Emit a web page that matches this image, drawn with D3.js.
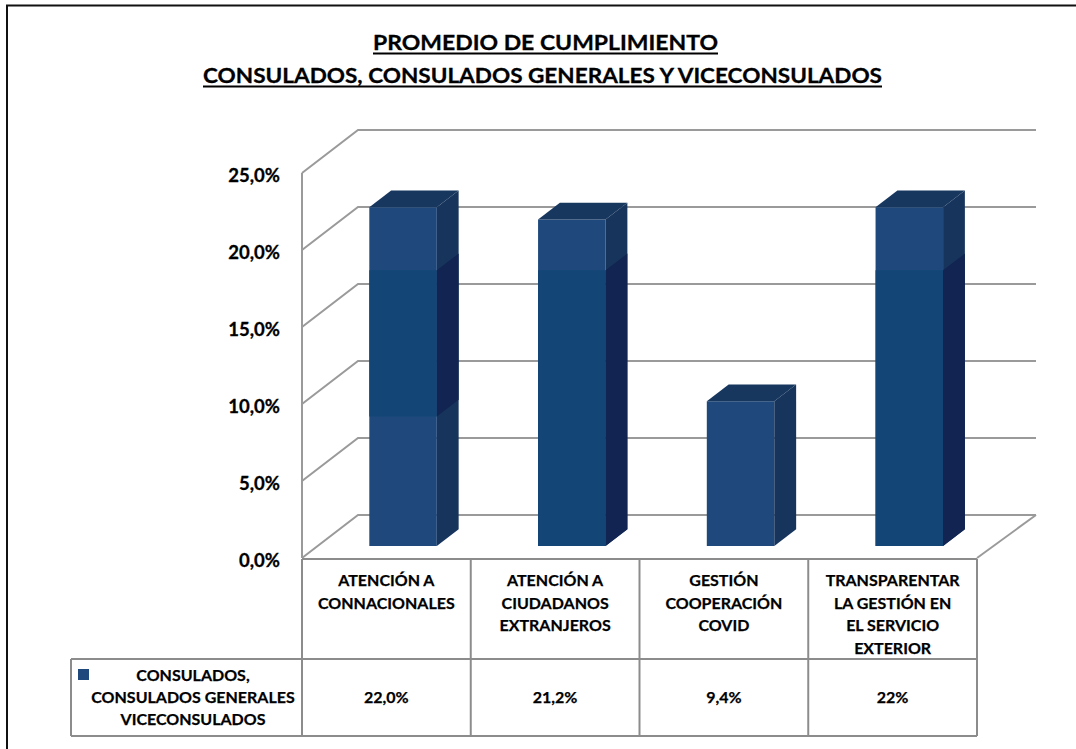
<!DOCTYPE html>
<meta charset="utf-8">
<style>
body { margin: 0; background: #fff; }
text { font-family: Lato, "Open Sans", sans-serif; font-weight: bold; fill: #000; }
</style>
<body>
<script src="https://d3js.org/d3.v7.min.js"></script>
<script>
var width = 1076, height = 749;

// data
var categories = ["ATENCIÓN A CONNACIONALES", "ATENCIÓN A CIUDADANOS EXTRANJEROS",
                  "GESTIÓN COOPERACIÓN COVID", "TRANSPARENTAR LA GESTIÓN EN EL SERVICIO EXTERIOR"];
var categoryLines = [["ATENCIÓN A", "CONNACIONALES"],
                     ["ATENCIÓN A", "CIUDADANOS", "EXTRANJEROS"],
                     ["GESTIÓN", "COOPERACIÓN", "COVID"],
                     ["TRANSPARENTAR", "LA GESTIÓN EN", "EL SERVICIO", "EXTERIOR"]];
var values = [22.0, 21.2, 9.4, 22.0];
var valueLabels = ["22,0%", "21,2%", "9,4%", "22%"];
var seriesLines = ["CONSULADOS,", "CONSULADOS GENERALES", "VICECONSULADOS"];
var yTicks = [0, 5, 10, 15, 20, 25];
var titleLines = ["PROMEDIO DE CUMPLIMIENTO", "CONSULADOS, CONSULADOS GENERALES Y VICECONSULADOS"];
// darker band seen on the picture's bars (value from / to), null = none
var shadeBands = [[8.4, 17.9], [0, 17.9], null, [0, 17.9]];

var svg = d3.select("body").append("svg")
    .attr("width", width)
    .attr("height", height);

// frame
svg.append("path")
    .attr("d", "M7,749 V5.5 H1076")
    .attr("fill", "none")
    .attr("stroke", "#111")
    .attr("stroke-width", 2);

// title
var titleWidths = [345, 679];
titleLines.forEach(function(t, i) {
  var y = i == 0 ? 50 : 83;
  var cx = i == 0 ? 545.5 : 542.5;
  svg.append("text")
    .attr("x", cx).attr("y", y)
    .attr("text-anchor", "middle")
    .attr("textLength", titleWidths[i])
    .attr("lengthAdjust", "spacingAndGlyphs")
    .style("font-size", "21px")
    .style("stroke", "#000").style("stroke-width", 0.3)
    .text(t);
  svg.append("line")
    .attr("x1", cx - titleWidths[i] / 2).attr("x2", cx + titleWidths[i] / 2)
    .attr("y1", y + 3.5).attr("y2", y + 3.5)
    .attr("stroke", "#000").attr("stroke-width", 2);
});

// 3D geometry
var depthX = 56, depthY = 43;
var x = d3.scaleBand().domain(categories).range([302, 977]);
var y = d3.scaleLinear().domain([0, 25]).range([558, 173]);

function pt(px, v, z) { return [px + z * depthX, y(v) - z * depthY]; }
function poly(pts) { return "M" + pts.map(function(p) { return p.join(","); }).join("L") + "Z"; }

var grid = svg.append("g")
    .attr("fill", "none")
    .attr("stroke", "#9a9a9a")
    .attr("stroke-width", 2);

// floor outline (right diagonal)
grid.append("line")
    .attr("x1", pt(977, 0, 0)[0]).attr("y1", pt(977, 0, 0)[1])
    .attr("x2", pt(980, 0, 1)[0]).attr("y2", pt(980, 0, 1)[1]);

// back wall gridlines and side wall diagonals
yTicks.forEach(function(t) {
  var a = pt(302, t, 0), b = pt(302, t, 1), c = pt(980, t, 1);
  grid.append("path").attr("d", "M" + a + "L" + b + "L" + c);
});
grid.append("line")
    .attr("x1", 302).attr("x2", 302)
    .attr("y1", y(25)).attr("y2", y(0));

// y labels
svg.append("g").selectAll("text")
    .data(yTicks)
    .enter().append("text")
    .attr("x", 280)
    .attr("y", function(d) { return y(d) + 9; })
    .attr("text-anchor", "end")
    .style("font-size", "18.5px")
    .style("stroke", "#000").style("stroke-width", 0.3)
    .text(function(d) { return d.toFixed(1).replace(".", ",") + "%"; });

// bars
var z0 = 0.28, z1 = 0.67;
var bars = svg.append("g").selectAll("g")
    .data(values)
    .enter().append("g");

bars.each(function(v, i) {
  var g = d3.select(this);
  var bw = x.bandwidth() * 0.4;
  var x0 = x(categories[i]) + (x.bandwidth() - bw) / 2 + 1, x1 = x0 + bw;
  // front
  g.append("path")
    .attr("d", poly([pt(x0, 0, z0), pt(x1, 0, z0), pt(x1, v, z0), pt(x0, v, z0)]))
    .attr("fill", "#1f497d");
  // side
  g.append("path")
    .attr("d", poly([pt(x1, 0, z0), pt(x1, 0, z1), pt(x1, v, z1), pt(x1, v, z0)]))
    .attr("fill", "#17345c");
  // top
  g.append("path")
    .attr("d", poly([pt(x0, v, z0), pt(x1, v, z0), pt(x1, v, z1), pt(x0, v, z1)]))
    .attr("fill", "#17375e");
  var s = shadeBands[i];
  if (s) {
    g.append("path")
      .attr("d", poly([pt(x0, s[0], z0), pt(x1, s[0], z0), pt(x1, s[1], z0), pt(x0, s[1], z0)]))
      .attr("fill", "#134677");
    g.append("path")
      .attr("d", poly([pt(x1, s[0], z0), pt(x1, s[0], z1), pt(x1, s[1], z1), pt(x1, s[1], z0)]))
      .attr("fill", "#112452");
  }
});

// data table
var rowTop = 559, rowMid = 659, rowBot = 736, legendLeft = 71;
var table = svg.append("g")
    .attr("fill", "none")
    .attr("stroke", "#8c8c8c")
    .attr("stroke-width", 2);

table.append("line").attr("x1", 302).attr("x2", 977).attr("y1", rowTop).attr("y2", rowTop);
table.append("line").attr("x1", legendLeft).attr("x2", 977).attr("y1", rowMid).attr("y2", rowMid);
table.append("line").attr("x1", legendLeft).attr("x2", 977).attr("y1", rowBot).attr("y2", rowBot);
table.append("line").attr("x1", legendLeft).attr("x2", legendLeft).attr("y1", rowMid).attr("y2", rowBot);
var edges = categories.map(function(c) { return x(c); }).concat([977]);
table.selectAll(".v")
    .data(edges)
    .enter().append("line")
    .attr("x1", function(d) { return d; }).attr("x2", function(d) { return d; })
    .attr("y1", rowTop).attr("y2", rowBot);

// category labels
categoryLines.forEach(function(lines, i) {
  var cx = x(categories[i]) + x.bandwidth() / 2;
  svg.append("text")
    .attr("x", cx)
    .attr("text-anchor", "middle")
    .style("font-size", "16px")
    .style("stroke", "#000").style("stroke-width", 0.25)
    .selectAll("tspan")
    .data(lines)
    .enter().append("tspan")
    .attr("x", cx)
    .attr("y", function(d, j) { return 586 + j * 22.5; })
    .text(function(d) { return d; });
});

// value row
svg.append("g").selectAll("text")
    .data(valueLabels)
    .enter().append("text")
    .attr("x", function(d, i) { return x(categories[i]) + x.bandwidth() / 2; })
    .attr("y", 703)
    .attr("text-anchor", "middle")
    .style("font-size", "16px")
    .style("stroke", "#000").style("stroke-width", 0.25)
    .text(function(d) { return d; });

// legend key
svg.append("rect")
    .attr("x", 78).attr("y", 669)
    .attr("width", 11).attr("height", 11)
    .attr("fill", "#1f497d");
svg.append("text")
    .attr("text-anchor", "middle")
    .style("font-size", "16px")
    .style("stroke", "#000").style("stroke-width", 0.25)
    .selectAll("tspan")
    .data(seriesLines)
    .enter().append("tspan")
    .attr("x", 193)
    .attr("y", function(d, j) { return 681 + j * 22; })
    .text(function(d) { return d; });
</script>
</body>
